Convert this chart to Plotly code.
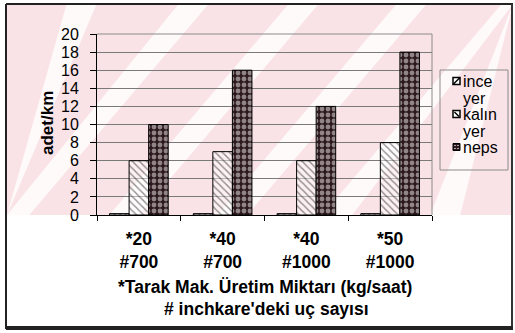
import plotly.graph_objects as go

# Data
categories = ["*20<br>#700", "*40<br>#700", "*40<br>#1000", "*50<br>#1000"]
series_names = ["ince yer", "kalın yer", "neps"]
ince_yer = [0.15, 0.15, 0.15, 0.15]
kalin_yer = [6, 7, 6, 8]
neps = [10, 16, 12, 18]
y_ticks = list(range(0, 21, 2))

W, H = 515, 333
L, R, T, B = 97, 432, 34, 215  # plot area in pixels

def px(x):
    return (x - L) / (R - L)

def py(y):
    return (B - y) / (B - T)

FONT = "Liberation Sans, Arial, sans-serif"
NEPS_BG = "#2d1a1f"

fig = go.Figure()
fig.add_bar(
    name=series_names[0], x=categories, y=ince_yer, showlegend=False,
    marker=dict(color="black", line=dict(color="black", width=1),
                pattern=dict(shape="/", fgcolor="black", bgcolor="white", size=4, solidity=0.3)),
)
fig.add_bar(
    name=series_names[1], x=categories, y=kalin_yer, showlegend=False,
    marker=dict(color="white", line=dict(color="black", width=1),
                pattern=dict(shape="\\", fgcolor="#222", bgcolor="rgba(255,255,255,0.45)",
                             size=5, solidity=0.28)),
)
fig.add_bar(
    name=series_names[2], x=categories, y=neps, showlegend=False,
    marker=dict(color=NEPS_BG, line=dict(color="black", width=1),
                pattern=dict(shape=".", fgcolor="#f6f0f2", bgcolor=NEPS_BG,
                             size=6, solidity=0.5)),
)

shapes = []
# pink tinted backdrop over the upper part of the card
shapes.append(dict(type="rect", xref="paper", yref="paper", layer="below",
                   x0=px(7), x1=px(513), y0=py(215), y1=py(4),
                   fillcolor="#fae3e7", line=dict(width=0)))
# light diagonal bands across the backdrop
slope = 0.85
band_w = 30
for x0 in [70, 182, 292, 400, 505, 613]:
    ya, yb = 4, 215
    pts = [(x0 - slope * ya, ya), (x0 - slope * ya + band_w, ya),
           (x0 - slope * yb + band_w, yb), (x0 - slope * yb, yb)]
    xs = [min(max(p[0], 7), 513) for p in pts]
    path = "M " + " L ".join(f"{px(x):.4f},{py(p[1]):.4f}" for x, p in zip(xs, pts)) + " Z"
    shapes.append(dict(type="path", xref="paper", yref="paper", layer="below",
                       path=path, fillcolor="white", opacity=0.8, line=dict(width=0)))
# plot-area top/right border
shapes.append(dict(type="line", xref="paper", yref="paper", x0=1, x1=1, y0=0, y1=1,
                   line=dict(color="#8a8a8a", width=1)))
shapes.append(dict(type="line", xref="paper", yref="paper", x0=0, x1=1, y0=1, y1=1,
                   line=dict(color="#8a8a8a", width=1)))
# outer card frame
shapes.append(dict(type="line", xref="paper", yref="paper", x0=px(6), x1=px(6), y0=py(4), y1=py(329),
                   line=dict(color="#222", width=2)))
shapes.append(dict(type="line", xref="paper", yref="paper", x0=px(6), x1=px(513), y0=py(4), y1=py(4),
                   line=dict(color="#222", width=2)))
shapes.append(dict(type="line", xref="paper", yref="paper", x0=px(512), x1=px(512), y0=py(4), y1=py(329),
                   line=dict(color="#333", width=2)))
shapes.append(dict(type="line", xref="paper", yref="paper", x0=px(6), x1=px(513), y0=py(328), y1=py(328),
                   line=dict(color="#222", width=4)))

# legend box
shapes.append(dict(type="rect", xref="paper", yref="paper", x0=px(440), x1=px(508),
                   y0=py(170), y1=py(70), line=dict(color="#8a8a8a", width=1),
                   fillcolor="rgba(0,0,0,0)"))

annotations = [
    dict(text="<b>adet/km</b>", xref="paper", yref="paper", x=px(47), y=py(123),
         textangle=-90, showarrow=False, font=dict(size=17, color="black", family=FONT),
         xanchor="center", yanchor="middle"),
    dict(text="<b>*Tarak Mak. Üretim Miktarı (kg/saat)</b>", xref="paper", yref="paper",
         x=px(265), y=py(287), showarrow=False, font=dict(size=17.5, color="black", family=FONT),
         xanchor="center", yanchor="middle"),
    dict(text="<b># inchkare'deki uç sayısı</b>", xref="paper", yref="paper",
         x=px(266), y=py(309), showarrow=False, font=dict(size=17.5, color="black", family=FONT),
         xanchor="center", yanchor="middle"),
]

# legend entries: swatch + wrapped label
sw = 7
legend_rows = [81, 114, 147]
for name, yc in zip(series_names, legend_rows):
    x0s, x1s = 453, 453 + sw
    y0s, y1s = yc - sw / 2, yc + sw / 2
    if name == "neps":
        shapes.append(dict(type="rect", xref="paper", yref="paper",
                           x0=px(x0s), x1=px(x1s), y0=py(y1s), y1=py(y0s),
                           fillcolor=NEPS_BG, line=dict(color="black", width=1)))
        for dx, dy in [(2, 2), (5, 2), (2, 5), (5, 5)]:
            shapes.append(dict(type="rect", xref="paper", yref="paper",
                               x0=px(x0s + dx - 0.7), x1=px(x0s + dx + 0.7),
                               y0=py(y0s + dy + 0.5), y1=py(y0s + dy - 0.5),
                               fillcolor="#e8e0e2", line=dict(width=0)))
    else:
        shapes.append(dict(type="rect", xref="paper", yref="paper",
                           x0=px(x0s), x1=px(x1s), y0=py(y1s), y1=py(y0s),
                           fillcolor="white", line=dict(color="black", width=1.5)))
        if name == "ince yer":
            shapes.append(dict(type="line", xref="paper", yref="paper",
                               x0=px(x0s), x1=px(x1s), y0=py(y1s), y1=py(y0s),
                               line=dict(color="black", width=1.5)))
        else:
            shapes.append(dict(type="line", xref="paper", yref="paper",
                               x0=px(x0s + 1.5), x1=px(x1s - 1), y0=py(y0s + 1.5), y1=py(y1s - 1),
                               line=dict(color="black", width=1.5)))
    words = name.split(" ")
    annotations.append(dict(text=words[0], xref="paper", yref="paper", x=px(461), y=py(yc),
                            showarrow=False, xanchor="left", yanchor="middle",
                            font=dict(size=16, color="black", family=FONT)))
    if len(words) > 1:
        annotations.append(dict(text=words[1], xref="paper", yref="paper", x=px(474), y=py(yc + 17),
                                showarrow=False, xanchor="center", yanchor="middle",
                                font=dict(size=16, color="black", family=FONT)))

fig.update_layout(
    width=W, height=H,
    margin=dict(l=L, r=W - R, t=T, b=H - B, pad=0),
    paper_bgcolor="white", plot_bgcolor="rgba(0,0,0,0)",
    font=dict(family=FONT, color="black"),
    barmode="group", bargap=0.3, bargroupgap=0,
    shapes=shapes, annotations=annotations,
    showlegend=False,
    xaxis=dict(showline=True, linecolor="black", linewidth=1, ticks="outside",
               tickson="boundaries", ticklen=5, tickcolor="black",
               tickfont=dict(size=17.5, family=FONT, color="black"),
               tickvals=categories, ticktext=[f"<b>{c}</b>" for c in categories],
               ticklabelstandoff=8, showgrid=False, fixedrange=True),
    yaxis=dict(range=[0, 20], tickvals=y_ticks, showline=True, linecolor="black",
               linewidth=1, ticks="outside", ticklen=6, tickcolor="black",
               tickfont=dict(size=16, family=FONT, color="black"),
               showgrid=True, gridcolor="#7a7a7a", gridwidth=1, zeroline=False,
               ticklabelstandoff=8, fixedrange=True),
)

fig.write_html("out.html")
